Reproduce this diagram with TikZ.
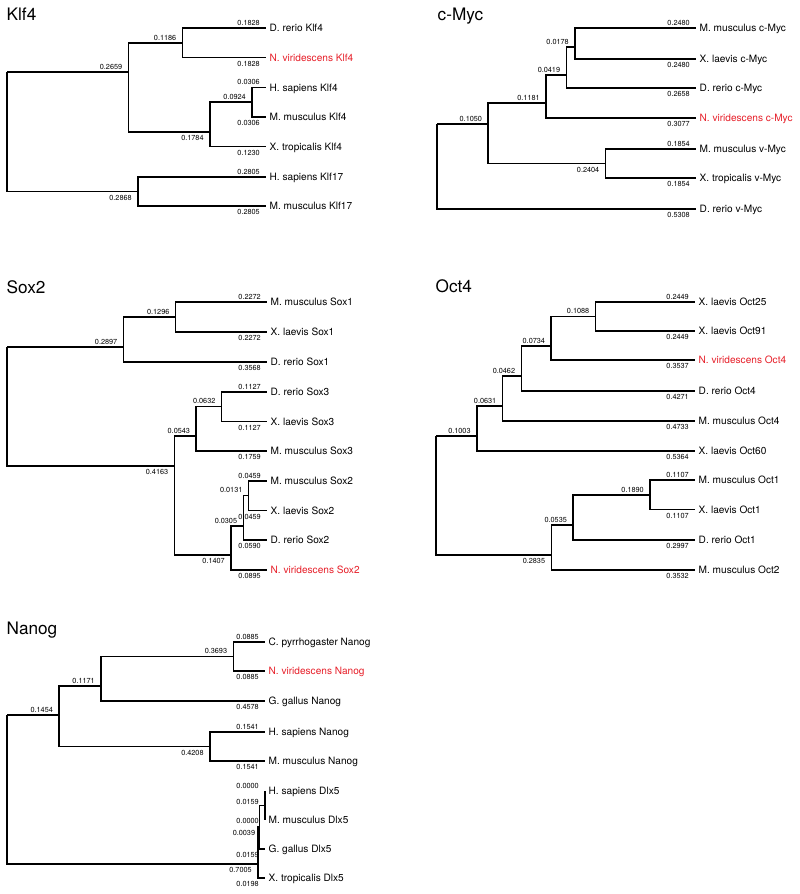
\documentclass[tikz,border=0pt]{standalone}
\usepackage{fontspec}
\setmainfont{TeX Gyre Heros}
\definecolor{nred}{RGB}{230,30,40}
\tikzset{
  br/.style={line width=1.5pt},
  leaf/.style={anchor=base west, xshift=3.5pt, yshift=-3.6pt, inner sep=0pt, font=\fontsize{10.1}{12}\selectfont},
  rleaf/.style={leaf, text=nred},
  ab/.style={anchor=base east, xshift=-6pt, yshift=2.8pt, inner sep=0pt, font=\fontsize{7.3}{8}\selectfont},
  be/.style={anchor=base east, xshift=-6pt, yshift=-8.8pt, inner sep=0pt, font=\fontsize{7.3}{8}\selectfont},
  ttl/.style={anchor=base west, inner sep=0pt, font=\fontsize{17.2}{20}\selectfont}
}
\begin{document}
\begin{tikzpicture}[x=1pt,y=-1pt]
\useasboundingbox (0,0) rectangle (800,894);

% ================= Klf4 =================
\node[ttl] (t1) at (6.5,20) {Klf4};
\coordinate (kR) at (7,72);
\coordinate (kU) at (128.4,72);
\coordinate (kU1) at (182.5,43);
\coordinate (kU2) at (209.8,132);
\coordinate (kU21) at (252,102);
\coordinate (kL) at (137.9,191.5);
\coordinate (k1) at (266,28);
\coordinate (k2) at (266,57.7);
\coordinate (k3) at (266,87.5);
\coordinate (k4) at (266,117);
\coordinate (k5) at (266,146.5);
\coordinate (k6) at (266,177);
\coordinate (k7) at (266,206);
\draw[br] (kR) |- (kU) (kR) |- (kL) (kU) |- (kU1) (kU) |- (kU2)
  (kU1) |- (k1) (kU1) |- (k2) (kU2) |- (kU21) (kU2) |- (k5)
  (kU21) |- (k3) (kU21) |- (k4) (kL) |- (k6) (kL) |- (k7);
\node[leaf] (k1t) at (k1) {D. rerio Klf4};
\node[rleaf] (k2t) at (k2) {N. viridescens Klf4};
\node[leaf] (k3t) at (k3) {H. sapiens Klf4};
\node[leaf] (k4t) at (k4) {M. musculus Klf4};
\node[leaf] (k5t) at (k5) {X. tropicalis Klf4};
\node[leaf] (k6t) at (k6) {H. sapiens Klf17};
\node[leaf] (k7t) at (k7) {M. musculus Klf17};
\node[ab] (kUl) at (kU) {0.2659};
\node[be] (kLl) at (kL) {0.2868};
\node[ab] (kU1l) at (kU1) {0.1186};
\node[be] (kU2l) at (kU2) {0.1784};
\node[ab] (kU21l) at (kU21) {0.0924};
\node[ab] (k1l) at (k1) {0.1828};
\node[be] (k2l) at (k2) {0.1828};
\node[ab] (k3l) at (k3) {0.0306};
\node[be] (k4l) at (k4) {0.0306};
\node[be] (k5l) at (k5) {0.1230};
\node[ab] (k6l) at (k6) {0.2805};
\node[be] (k7l) at (k7) {0.2805};

% ================= c-Myc =================
\node[ttl] (t2) at (437.5,20.5) {c-Myc};
\coordinate (cR) at (437,124);
\coordinate (cA) at (488.2,124);
\coordinate (cB) at (545.9,103);
\coordinate (cC) at (566.3,75);
\coordinate (cD) at (575,47);
\coordinate (cE) at (605.5,163.5);
\coordinate (c1) at (696,28);
\coordinate (c2) at (696,59);
\coordinate (c3) at (696,88);
\coordinate (c4) at (696,118);
\coordinate (c5) at (696,149);
\coordinate (c6) at (696,178);
\coordinate (c7) at (696,209);
\draw[br] (cR) |- (cA) (cR) |- (c7) (cA) |- (cB) (cA) |- (cE)
  (cB) |- (cC) (cB) |- (c4) (cC) |- (cD) (cC) |- (c3)
  (cD) |- (c1) (cD) |- (c2) (cE) |- (c5) (cE) |- (c6);
\node[leaf] (c1t) at (c1) {M. musculus c-Myc};
\node[leaf] (c2t) at (c2) {X. laevis c-Myc};
\node[leaf] (c3t) at (c3) {D. rerio c-Myc};
\node[rleaf] (c4t) at (c4) {N. viridescens c-Myc};
\node[leaf] (c5t) at (c5) {M. musculus v-Myc};
\node[leaf] (c6t) at (c6) {X. tropicalis v-Myc};
\node[leaf] (c7t) at (c7) {D. rerio v-Myc};
\node[ab] (cAl) at (cA) {0.1050};
\node[be] (c7l) at (c7) {0.5308};
\node[ab] (cBl) at (cB) {0.1181};
\node[be] (cEl) at (cE) {0.2404};
\node[ab] (cCl) at (cC) {0.0419};
\node[be] (c4l) at (c4) {0.3077};
\node[ab] (cDl) at (cD) {0.0178};
\node[be] (c3l) at (c3) {0.2658};
\node[ab] (c1l) at (c1) {0.2480};
\node[be] (c2l) at (c2) {0.2480};
\node[ab] (c5l) at (c5) {0.1854};
\node[be] (c6l) at (c6) {0.1854};

% ================= Sox2 =================
\node[ttl] (t3) at (6.5,293.5) {Sox2};
\coordinate (sR) at (7,347);
\coordinate (sU) at (123.5,347);
\coordinate (sU1) at (175.6,317);
\coordinate (sL) at (174.4,466);
\coordinate (sL1) at (196.2,436);
\coordinate (sL11) at (221.6,406.5);
\coordinate (sL2) at (231,555);
\coordinate (sL21) at (243.3,526);
\coordinate (sL211) at (248.6,495.5);
\coordinate (s1) at (267,302);
\coordinate (s2) at (267,332);
\coordinate (s3) at (267,362);
\coordinate (s4) at (267,392);
\coordinate (s5) at (267,421.5);
\coordinate (s6) at (267,451);
\coordinate (s7) at (267,481);
\coordinate (s8) at (267,510.5);
\coordinate (s9) at (267,540);
\coordinate (s10) at (267,570);
\draw[br] (sR) |- (sU) (sR) |- (sL) (sU) |- (sU1) (sU) |- (s3)
  (sU1) |- (s1) (sU1) |- (s2) (sL) |- (sL1) (sL) |- (sL2)
  (sL1) |- (sL11) (sL1) |- (s6) (sL11) |- (s4) (sL11) |- (s5)
  (sL2) |- (sL21) (sL2) |- (s10) (sL21) |- (sL211) (sL21) |- (s9)
  (sL211) |- (s7) (sL211) |- (s8);
\node[leaf] (s1t) at (s1) {M. musculus Sox1};
\node[leaf] (s2t) at (s2) {X. laevis Sox1};
\node[leaf] (s3t) at (s3) {D. rerio Sox1};
\node[leaf] (s4t) at (s4) {D. rerio Sox3};
\node[leaf] (s5t) at (s5) {X. laevis Sox3};
\node[leaf] (s6t) at (s6) {M. musculus Sox3};
\node[leaf] (s7t) at (s7) {M. musculus Sox2};
\node[leaf] (s8t) at (s8) {X. laevis Sox2};
\node[leaf] (s9t) at (s9) {D. rerio Sox2};
\node[rleaf] (s10t) at (s10) {N. viridescens Sox2};
\node[ab] (sUl) at (sU) {0.2897};
\node[be] (sLl) at (sL) {0.4163};
\node[ab] (sU1l) at (sU1) {0.1296};
\node[be] (s3l) at (s3) {0.3568};
\node[ab] (s1l) at (s1) {0.2272};
\node[be] (s2l) at (s2) {0.2272};
\node[ab] (sL1l) at (sL1) {0.0543};
\node[be] (sL2l) at (sL2) {0.1407};
\node[ab] (sL11l) at (sL11) {0.0632};
\node[be] (s6l) at (s6) {0.1759};
\node[ab] (s4l) at (s4) {0.1127};
\node[be] (s5l) at (s5) {0.1127};
\node[ab] (sL21l) at (sL21) {0.0305};
\node[be] (s10l) at (s10) {0.0895};
\node[ab] (sL211l) at (sL211) {0.0131};
\node[be] (s9l) at (s9) {0.0590};
\node[ab] (s7l) at (s7) {0.0459};
\node[be] (s8l) at (s8) {0.0459};

% ================= Oct4 =================
\node[ttl] (t4) at (435.5,292.5) {Oct4};
\coordinate (oR) at (436,436);
\coordinate (oA) at (476.8,436);
\coordinate (oB) at (502.5,406);
\coordinate (oC) at (521.3,376);
\coordinate (oD) at (551.2,346);
\coordinate (oE) at (595.5,316.5);
\coordinate (oF) at (551.3,555);
\coordinate (oG) at (573.1,525);
\coordinate (oH) at (650,495);
\coordinate (o1) at (695,302);
\coordinate (o2) at (695,331);
\coordinate (o3) at (695,360);
\coordinate (o4) at (695,391);
\coordinate (o5) at (695,421);
\coordinate (o6) at (695,451);
\coordinate (o7) at (695,480);
\coordinate (o8) at (695,509.5);
\coordinate (o9) at (695,540);
\coordinate (o10) at (695,570);
\draw[br] (oR) |- (oA) (oR) |- (oF) (oA) |- (oB) (oA) |- (o6)
  (oB) |- (oC) (oB) |- (o5) (oC) |- (oD) (oC) |- (o4)
  (oD) |- (oE) (oD) |- (o3) (oE) |- (o1) (oE) |- (o2)
  (oF) |- (oG) (oF) |- (o10) (oG) |- (oH) (oG) |- (o9)
  (oH) |- (o7) (oH) |- (o8);
\node[leaf] (o1t) at (o1) {X. laevis Oct25};
\node[leaf] (o2t) at (o2) {X. laevis Oct91};
\node[rleaf] (o3t) at (o3) {N. viridescens Oct4};
\node[leaf] (o4t) at (o4) {D. rerio Oct4};
\node[leaf] (o5t) at (o5) {M. musculus Oct4};
\node[leaf] (o6t) at (o6) {X. laevis Oct60};
\node[leaf] (o7t) at (o7) {M. musculus Oct1};
\node[leaf] (o8t) at (o8) {X. laevis Oct1};
\node[leaf] (o9t) at (o9) {D. rerio Oct1};
\node[leaf] (o10t) at (o10) {M. musculus Oct2};
\node[ab] (oAl) at (oA) {0.1003};
\node[be] (oFl) at (oF) {0.2835};
\node[ab] (oBl) at (oB) {0.0631};
\node[be] (o6l) at (o6) {0.5364};
\node[ab] (oCl) at (oC) {0.0462};
\node[be] (o5l) at (o5) {0.4733};
\node[ab] (oDl) at (oD) {0.0734};
\node[be] (o4l) at (o4) {0.4271};
\node[ab] (oEl) at (oE) {0.1088};
\node[be] (o3l) at (o3) {0.3537};
\node[ab] (o1l) at (o1) {0.2449};
\node[be] (o2l) at (o2) {0.2449};
\node[ab] (oGl) at (oG) {0.0535};
\node[be] (o10l) at (o10) {0.3532};
\node[ab] (oHl) at (oH) {0.1890};
\node[be] (o9l) at (o9) {0.2997};
\node[ab] (o7l) at (o7) {0.1107};
\node[be] (o8l) at (o8) {0.1107};

% ================= Nanog =================
\node[ttl] (t5) at (6.5,634) {Nanog};
\coordinate (nR) at (7,715);
\coordinate (nA) at (59.1,715);
\coordinate (nB) at (101,686);
\coordinate (nC) at (233.3,656.5);
\coordinate (nD) at (209.8,746.5);
\coordinate (nE) at (257.9,864);
\coordinate (nF) at (259.3,827);
\coordinate (nG) at (265,805.5);
\coordinate (n1) at (265,642);
\coordinate (n2) at (265,671);
\coordinate (n3) at (265,701);
\coordinate (n4) at (265,732);
\coordinate (n5) at (265,761);
\coordinate (n6) at (265,791);
\coordinate (n7) at (265,820);
\coordinate (n8) at (265,849);
\coordinate (n9) at (265,878);
\draw[br] (nR) |- (nA) (nR) |- (nE) (nA) |- (nB) (nA) |- (nD)
  (nB) |- (nC) (nB) |- (n3) (nC) |- (n1) (nC) |- (n2)
  (nD) |- (n4) (nD) |- (n5) (nE) |- (nF) (nE) |- (n9)
  (nF) |- (nG) (nF) |- (n8) (nG) |- (n6) (nG) |- (n7);
\node[leaf] (n1t) at (n1) {C. pyrrhogaster Nanog};
\node[rleaf] (n2t) at (n2) {N. viridescens Nanog};
\node[leaf] (n3t) at (n3) {G. gallus Nanog};
\node[leaf] (n4t) at (n4) {H. sapiens Nanog};
\node[leaf] (n5t) at (n5) {M. musculus Nanog};
\node[leaf] (n6t) at (n6) {H. sapiens Dlx5};
\node[leaf] (n7t) at (n7) {M. musculus Dlx5};
\node[leaf] (n8t) at (n8) {G. gallus Dlx5};
\node[leaf] (n9t) at (n9) {X. tropicalis Dlx5};
\node[ab] (nAl) at (nA) {0.1454};
\node[be] (nEl) at (nE) {0.7005};
\node[ab] (nBl) at (nB) {0.1171};
\node[be] (nDl) at (nD) {0.4208};
\node[ab] (nCl) at (nC) {0.3693};
\node[be] (n3l) at (n3) {0.4578};
\node[ab] (n1l) at (n1) {0.0885};
\node[be] (n2l) at (n2) {0.0885};
\node[ab] (n4l) at (n4) {0.1541};
\node[be] (n5l) at (n5) {0.1541};
\node[ab] (n6l) at (n6) {0.0000};
\node[ab, yshift=-2pt] (nGl) at (nG) {0.0159};
\node[be, yshift=5pt] (n7l) at (n7) {0.0000};
\node[be, xshift=2pt] (nFl) at (nF) {0.0039};
\node[be] (n8l) at (n8) {0.0159};
\node[be] (n9l) at (n9) {0.0198};
\end{tikzpicture}
\end{document}
